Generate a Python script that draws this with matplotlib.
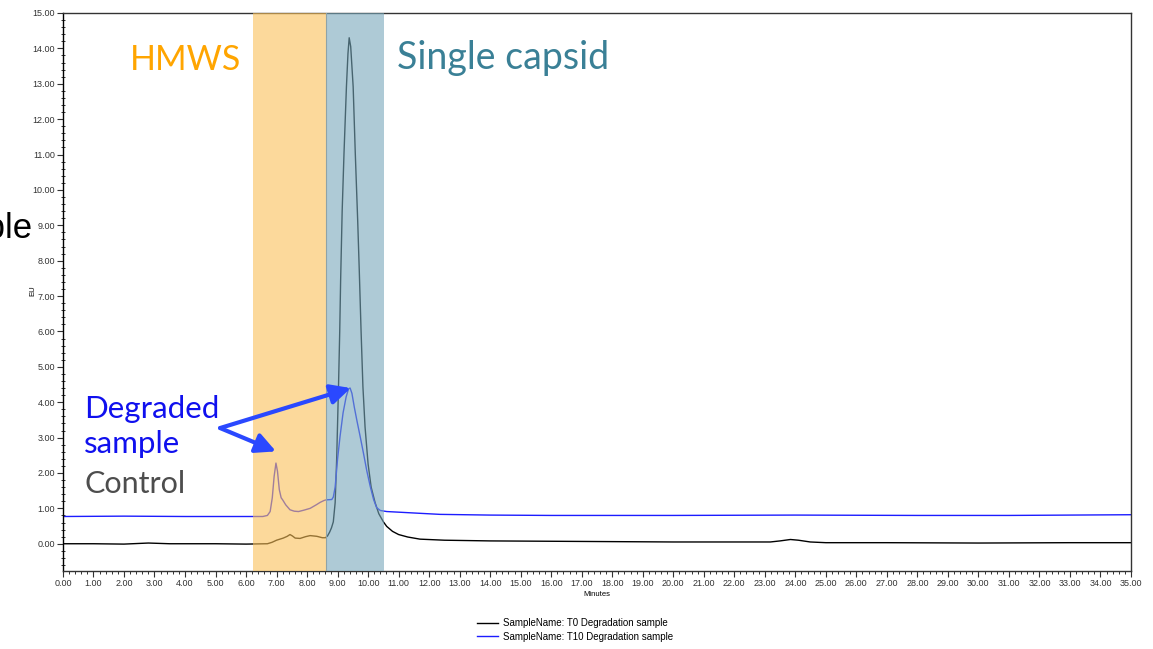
import matplotlib
matplotlib.use('Agg')
import matplotlib.pyplot as plt
from matplotlib.ticker import MultipleLocator, FormatStrFormatter

# T0 (control) trace
t0_min = [0.0, 1.0, 2.0, 2.8, 3.5, 5.0, 6.0, 6.7, 6.85, 7.0, 7.22, 7.35, 7.44, 7.52,
          7.61, 7.77, 7.95, 8.10, 8.32, 8.50, 8.60, 8.67, 8.74, 8.80, 8.86, 8.92,
          8.97, 9.03, 9.07, 9.10, 9.15, 9.21, 9.29, 9.34, 9.38, 9.43, 9.51, 9.58,
          9.66, 9.71, 9.77, 9.83, 9.90, 10.00, 10.10, 10.23, 10.35, 10.50, 10.61,
          10.80, 11.00, 11.30, 11.70, 12.50, 14.0, 16.0, 18.0, 20.0, 22.0, 23.18,
          23.5, 23.84, 24.1, 24.49, 25.0, 27.0, 30.0, 33.0, 35.0]
t0_eu  = [0.00, 0.00, -0.01, 0.02, 0.00, 0.00, -0.01, 0.00, 0.04, 0.10, 0.16, 0.21, 0.26, 0.22,
          0.16, 0.15, 0.20, 0.23, 0.21, 0.17, 0.17, 0.22, 0.33, 0.45, 0.62, 1.16,
          2.40, 4.44, 6.00, 7.46, 9.40, 11.03, 12.92, 13.85, 14.30, 14.05, 12.92, 11.03,
          9.10, 7.74, 6.00, 4.44, 3.30, 2.25, 1.60, 1.16, 0.85, 0.62, 0.49,
          0.35, 0.26, 0.19, 0.13, 0.10, 0.08, 0.07, 0.06, 0.05, 0.05, 0.05,
          0.08, 0.12, 0.10, 0.05, 0.03, 0.03, 0.02, 0.03, 0.03]

# T10 (degraded) trace
t10_min = [0.0, 2.0, 4.0, 6.0, 6.55, 6.70, 6.79, 6.86, 6.92, 6.98, 7.03, 7.09, 7.15,
           7.20, 7.30, 7.44, 7.58, 7.72, 7.90, 8.10, 8.30, 8.43, 8.55, 8.62, 8.81,
           8.86, 8.92, 9.00, 9.08, 9.18, 9.28, 9.36, 9.41, 9.47, 9.55, 9.64, 9.74,
           9.85, 9.96, 10.07, 10.18, 10.28, 10.40, 10.61, 11.05, 11.7, 12.36, 14.0,
           16.0, 20.0, 24.0, 28.0, 31.0, 35.0]
t10_eu  = [0.77, 0.78, 0.77, 0.77, 0.77, 0.80, 0.91, 1.30, 1.90, 2.28, 2.05, 1.53, 1.30,
           1.24, 1.10, 0.96, 0.92, 0.91, 0.95, 1.00, 1.10, 1.17, 1.22, 1.24, 1.25,
           1.32, 1.60, 2.40, 3.03, 3.70, 4.15, 4.38, 4.40, 4.25, 3.85, 3.45, 3.03,
           2.55, 2.05, 1.62, 1.25, 1.02, 0.94, 0.91, 0.89, 0.86, 0.83, 0.81,
           0.80, 0.80, 0.81, 0.80, 0.80, 0.82]

labels  = ['SampleName: T0 Degradation sample', 'SampleName: T10 Degradation sample']
regions = {'HMWS': (6.23, 8.62), 'Single capsid': (8.62, 10.52)}

TICKFONT = 'Liberation Sans'
ANNFONT  = 'Lato'

fig = plt.figure( figsize = (11.53, 6.49), dpi = 100 )
ax  = fig.add_axes( [0.0546, 0.1202, 0.9263, 0.8598] )

l0, = ax.plot( t0_min,  t0_eu,  color = 'black',   lw = 1.0, zorder = 2 )
l1, = ax.plot( t10_min, t10_eu, color = '#1c1cff', lw = 1.0, zorder = 2 )

# shaded regions sit on top of the traces, half see-through
ax.axvspan( *regions['HMWS'],          color = (250/255, 192/255, 88/255),  alpha = 0.6, lw = 0, zorder = 3 )
ax.axvspan( *regions['Single capsid'], color = (120/255, 168/255, 187/255), alpha = 0.6, lw = 0, zorder = 3 )
ax.axvline( regions['Single capsid'][0], color = '#8fa3a8', lw = 0.8, zorder = 3 )

ax.set_xlim( 0, 35 )
ax.set_ylim( -0.77, 15 )

ax.xaxis.set_major_locator( MultipleLocator(1) )
ax.xaxis.set_minor_locator( MultipleLocator(0.2) )
ax.yaxis.set_major_locator( MultipleLocator(1) )
ax.yaxis.set_minor_locator( MultipleLocator(0.2) )
ax.xaxis.set_major_formatter( FormatStrFormatter('%.2f') )
ax.yaxis.set_major_formatter( FormatStrFormatter('%.2f') )

ax.tick_params( which = 'major', direction = 'out', length = 4, width = 0.8,
                labelsize = 6.5, colors = '#333333', pad = 1.5 )
ax.tick_params( axis = 'x', which = 'minor', direction = 'out', length = 2.5, width = 0.7, colors = '#333333' )
ax.tick_params( axis = 'y', which = 'minor', direction = 'inout', length = 3, width = 0.7, colors = '#333333' )
for lab in ax.get_xticklabels() + ax.get_yticklabels():
  lab.set_fontfamily( TICKFONT )

for side in ['top', 'right', 'bottom', 'left']:
  ax.spines[side].set_color( '#333333' )
  ax.spines[side].set_linewidth( 1.0 )
ax.spines['left'].set_color( 'black' )

fig.text( 33/1153, 1 - 291/649, 'EU', rotation = 90, ha = 'center', va = 'center',
          fontsize = 5.5, family = TICKFONT )
fig.text( 597/1153, 1 - 594/649, 'Minutes', ha = 'center', va = 'center',
          fontsize = 5.5, family = TICKFONT )

# region names
ax.text( 2.20,  13.39, 'HMWS',          color = '#ffa500', fontsize = 24.5, family = ANNFONT, va = 'baseline', zorder = 6 )
ax.text( 10.95, 13.42, 'Single capsid', color = '#3a8096', fontsize = 27,   family = ANNFONT, va = 'baseline', zorder = 6 )

# sample call-outs
ax.text( 0.70, 3.56, 'Degraded', color = '#1010ee', fontsize = 22.5, family = ANNFONT, va = 'baseline', zorder = 6 )
ax.text( 0.70, 2.57, 'sample',   color = '#1010ee', fontsize = 22.5, family = ANNFONT, va = 'baseline', zorder = 6 )
ax.text( 0.70, 1.44, 'Control',  color = '#4d4d4d', fontsize = 22,   family = ANNFONT, va = 'baseline', zorder = 6 )

arrow = dict( arrowstyle = '-|>,head_length=0.6,head_width=0.3', color = '#2a48ff',
              lw = 3, mutation_scale = 20, shrinkA = 0, shrinkB = 0 )
ax.annotate( '', xy = (9.43, 4.40), xytext = (5.15, 3.27), arrowprops = arrow, zorder = 6 )
ax.annotate( '', xy = (6.98, 2.61), xytext = (5.15, 3.27), arrowprops = arrow, zorder = 6 )

# left-over word from the slide, cut by the page edge as in the original
fig.text( 33/1153, 1 - 238/649, 'sample', ha = 'right', va = 'baseline',
          fontsize = 25, family = TICKFONT, color = 'black' )

fig.legend( [l0, l1], labels, loc = 'center', bbox_to_anchor = (575/1153, 1 - 630/649),
            frameon = False, handlelength = 2.1, handletextpad = 0.5,
            labelspacing = 0.35, prop = {'family': TICKFONT, 'size': 7} )

fig.savefig( 'out.png', dpi = 100 )
